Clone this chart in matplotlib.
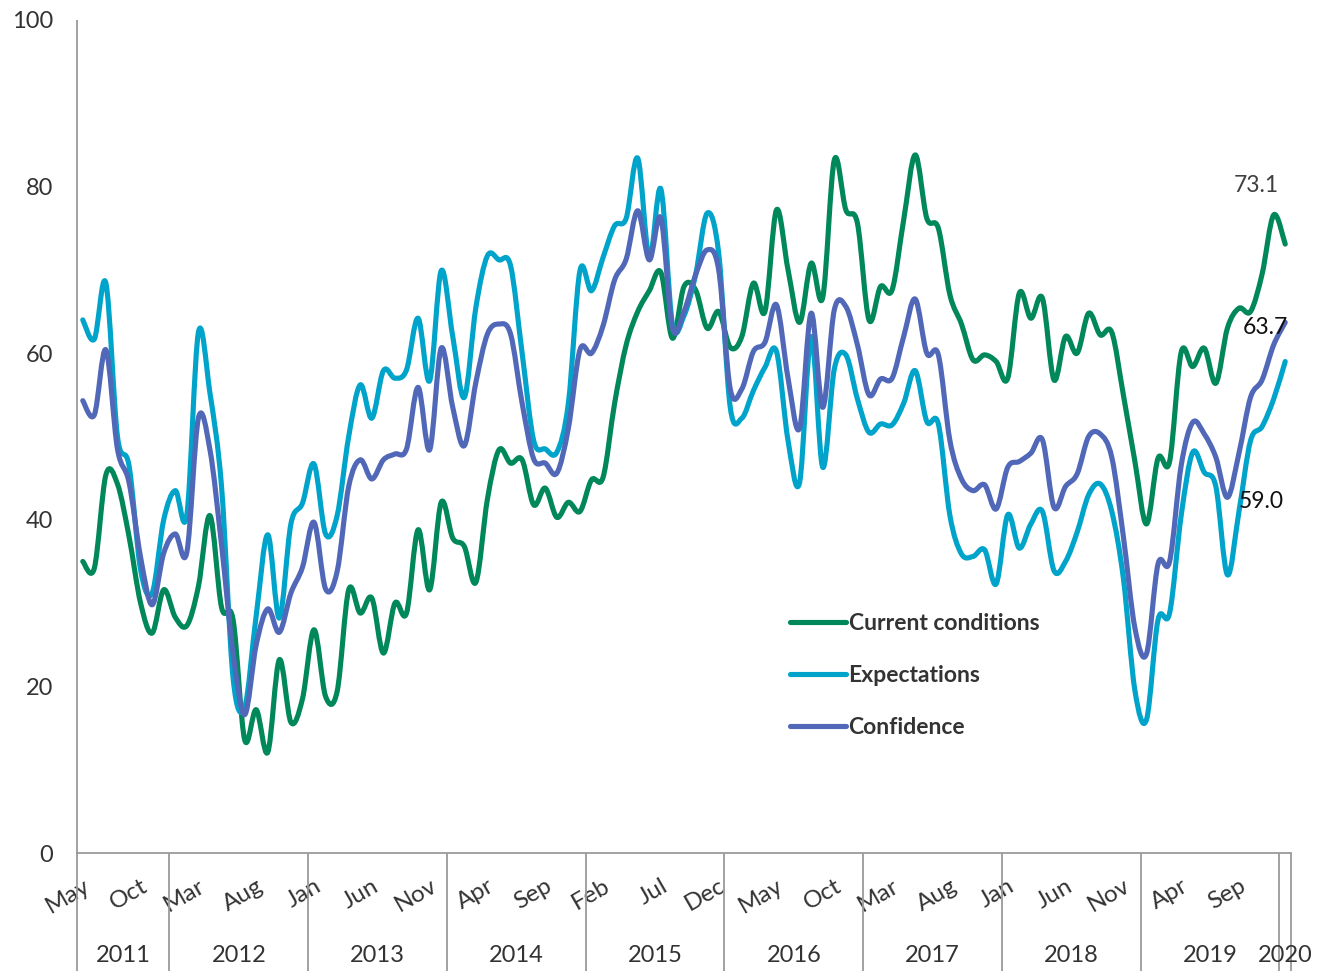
import numpy as np
from matplotlib import pyplot as plt
from matplotlib.path import Path
from matplotlib.patches import PathPatch

plt.rcParams['font.family'] = ['Lato', 'DejaVu Sans']

# Monthly index, May 2011 .. Jan 2020
current = [35.0, 34.2, 45.4, 44.3, 38.0, 30.0, 26.4, 31.6, 28.3, 27.3,
           32.0, 40.5, 29.5, 28.0, 13.6, 17.2, 12.1, 23.2, 15.7, 18.5,
           26.8, 18.8, 19.4, 31.6, 28.8, 30.6, 24.0, 30.0, 28.8, 38.8,
           31.6, 42.1, 37.8, 36.8, 32.5, 42.5, 48.4, 46.8, 47.2, 41.8,
           43.8, 40.3, 42.1, 41.0, 44.8, 45.1, 54.0, 61.0, 65.0, 67.5,
           69.7, 61.8, 68.0, 67.6, 63.0, 65.0, 60.7, 62.0, 68.4, 65.0,
           77.2, 70.0, 63.7, 70.8, 66.7, 83.2, 77.2, 75.6, 64.0, 68.0,
           67.6, 76.0, 83.8, 76.2, 75.0, 67.0, 63.5, 59.2, 59.8, 59.0,
           57.0, 67.2, 64.2, 66.6, 56.8, 62.0, 60.0, 64.8, 62.2, 62.5,
           55.0, 47.0, 39.5, 47.4, 47.0, 60.1, 58.4, 60.6, 56.4, 63.0,
           65.4, 65.0, 69.5, 76.6, 73.1]
expect = [64.0, 61.7, 68.4, 50.0, 46.5, 34.0, 31.2, 40.0, 43.5, 40.6,
          62.5, 55.2, 44.0, 21.0, 17.5, 28.5, 38.2, 28.2, 39.5, 42.0,
          46.7, 38.3, 40.5, 50.0, 56.2, 52.2, 57.9, 57.0, 58.0, 64.2,
          56.7, 69.9, 62.0, 54.7, 65.5, 71.7, 71.2, 70.5, 60.0, 49.5,
          48.5, 48.1, 54.0, 69.9, 67.5, 71.5, 75.3, 76.2, 83.4, 71.4,
          79.7, 63.5, 64.5, 69.4, 76.8, 72.0, 53.5, 52.2, 55.5, 58.3,
          60.2, 49.5, 44.5, 62.0, 46.3, 58.1, 59.8, 54.5, 50.5, 51.5,
          51.4, 54.0, 57.9, 51.8, 51.5, 40.5, 35.9, 35.6, 36.4, 32.3,
          40.6, 36.6, 39.5, 41.0, 33.9, 35.0, 38.5, 43.0, 44.3, 41.0,
          33.0, 19.5, 16.0, 28.0, 28.8, 40.5, 48.1, 45.7, 44.0, 33.4,
          41.0, 49.5, 51.2, 54.5, 59.0]
confid = [54.3, 52.6, 60.4, 48.5, 44.5, 35.5, 29.8, 36.0, 38.3, 36.1,
          52.2, 48.4, 37.0, 24.0, 16.6, 25.0, 29.3, 26.5, 31.2, 34.3,
          39.7, 31.7, 33.8, 44.0, 47.2, 44.9, 47.2, 47.9, 48.5, 55.9,
          48.4, 60.6, 53.5, 48.9, 56.5, 62.3, 63.5, 62.3, 54.0, 47.3,
          46.8, 45.6, 51.0, 60.4, 60.0, 63.3, 68.8, 71.3, 77.1, 71.2,
          76.2, 63.0, 65.0, 69.4, 72.4, 70.0, 55.7, 55.7, 60.2, 61.3,
          65.8, 57.0, 51.0, 64.8, 53.5, 65.2, 65.6, 61.0, 55.0, 56.9,
          57.0, 62.0, 66.5, 60.0, 59.8, 49.5, 44.9, 43.5, 44.2, 41.3,
          46.3, 47.0, 48.0, 49.6, 41.5, 44.0, 45.5, 50.0, 50.3, 47.5,
          38.0, 27.0, 23.9, 34.7, 35.0, 46.5, 51.7, 50.3, 47.5, 42.7,
          48.0, 54.7, 56.8, 61.0, 63.7]

month_names = ['Jan', 'Feb', 'Mar', 'Apr', 'May', 'Jun',
               'Jul', 'Aug', 'Sep', 'Oct', 'Nov', 'Dec']
years = [2011, 2012, 2013, 2014, 2015, 2016, 2017, 2018, 2019, 2020]
start_month = 4  # May

# (values, legend name, colour, end label, label offset in points, label colour)
series = [(current, 'Current conditions', '#00875A', '73.1', (-21, 42), '#404040'),
          (expect, 'Expectations', '#00A3C9', '59.0', (-17, -101), '#111111'),
          (confid, 'Confidence', '#5068B7', '63.7', (-14, -4), '#111111')]

n = len(current)
xs = np.arange(n)
months = [(start_month + i) % 12 for i in xs]
year_of = [years[0] + (start_month + i) // 12 for i in xs]


def smooth_path(x, y):
    # excel-style smoothed line: bezier segments through every point
    pts = np.column_stack([x, y]).astype(float)
    verts = [pts[0]]
    codes = [Path.MOVETO]
    for i in range(len(pts) - 1):
        p0 = pts[i - 1] if i > 0 else pts[i]
        p1 = pts[i]
        p2 = pts[i + 1]
        p3 = pts[i + 2] if i + 2 < len(pts) else pts[i + 1]
        c1 = p1 + (p2 - p0) / 6.0
        c2 = p2 - (p3 - p1) / 6.0
        verts += [c1, c2, p2]
        codes += [Path.CURVE4] * 3
    return Path(verts, codes)


fig = plt.figure(figsize=(13.26, 9.71), dpi=100)
ax = fig.add_axes([77 / 1326, 118 / 971, 1214 / 1326, 833 / 971])

for vals, name, col, txt, off, tcol in series:
    patch = PathPatch(smooth_path(xs, vals), fill=False, edgecolor=col,
                      lw=3.7, capstyle='round', joinstyle='round')
    ax.add_patch(patch)
    # empty line only for the legend entry
    ax.plot([], [], color=col, lw=3.7, solid_capstyle='round', label=name)
    ax.annotate(txt, (xs[-1], vals[-1]), xytext=off, textcoords='offset points',
                ha='center', va='center', fontsize=16.5, color=tcol)

ax.set_xlim(-0.5, n - 0.5)
ax.set_ylim(0, 100)
ax.set_yticks(np.arange(0, 101, 20))
ax.tick_params(axis='y', length=0, pad=17, labelsize=17, labelcolor='#333333')

tick_pos = xs[::5]
ax.set_xticks(tick_pos, [month_names[months[i]] for i in tick_pos])
ax.tick_params(axis='x', length=0, pad=16, labelsize=17.5, labelcolor='#333333')
for lbl in ax.get_xticklabels():
    lbl.set_rotation(30)
    lbl.set_ha('right')
    lbl.set_va('top')
    lbl.set_rotation_mode('anchor')

for s in ['top', 'right', 'left']:
    ax.spines[s].set_visible(False)
ax.spines['bottom'].set_color('#9a9a9a')
ax.spines['bottom'].set_linewidth(1.3)

# year groups under the month labels
low = -118 / 833
bounds = [-0.5]
for yr in years:
    idx = [i for i in xs if year_of[i] == yr]
    ax.text((idx[0] + idx[-1]) / 2, -102 / 833, str(yr),
            transform=ax.get_xaxis_transform(), ha='center', va='center',
            fontsize=17, color='#333333')
    bounds.append(idx[-1] + 0.5)
ax.vlines(bounds, low, 0, transform=ax.get_xaxis_transform(),
          colors='#9a9a9a', lw=1.3, clip_on=False)
ax.vlines([-0.5], 0, 1, transform=ax.get_xaxis_transform(),
          colors='#9a9a9a', lw=1.3, clip_on=False)

leg = ax.legend(loc='upper left', bbox_to_anchor=(0.587, 0.288), frameon=False,
                handlelength=2.45, handletextpad=0.12, labelspacing=1.35,
                borderpad=0, borderaxespad=0,
                prop={'size': 16.5, 'weight': 'bold'})
for t in leg.get_texts():
    t.set_color('#333333')

fig.savefig('out.png', dpi=100)
